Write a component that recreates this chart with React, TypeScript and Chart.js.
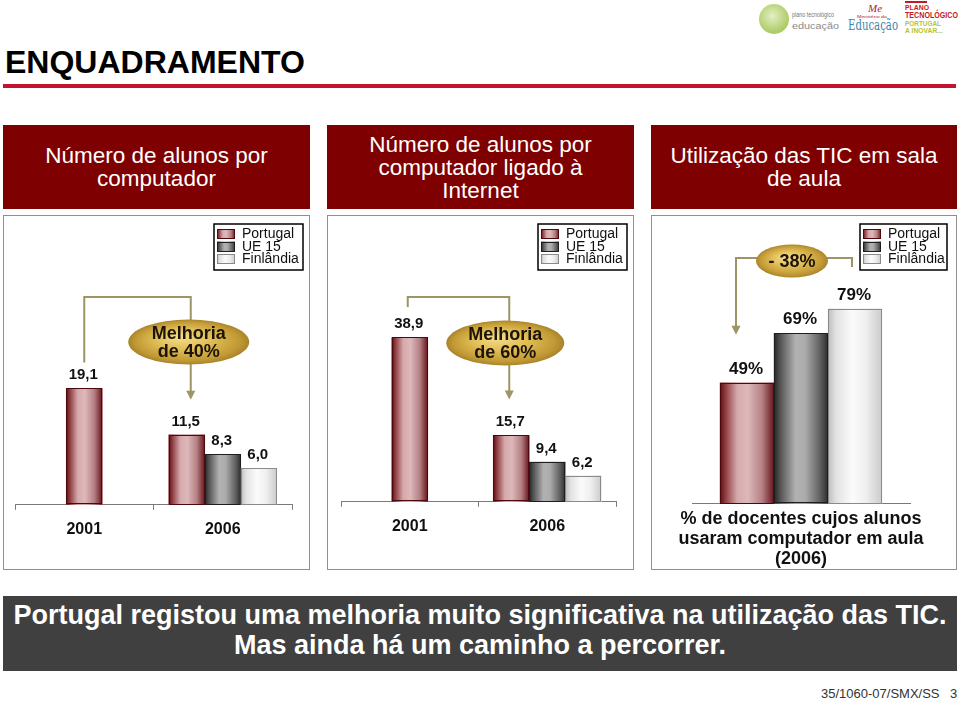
import React, { useEffect, useRef } from "react";
import { Chart, registerables } from "chart.js";

Chart.register(...registerables);

// ---------------- data ----------------
const seriesNames = ["Portugal", "UE 15", "Finlândia"];
const years = ["2001", "2006"];
const pcPortugal = [19.1, 11.5];
const pcUE15 = [null, 8.3];
const pcFinland = [null, 6.0];
const netPortugal = [38.9, 15.7];
const netUE15 = [null, 9.4];
const netFinland = [null, 6.2];
const ticCategory = [["% de docentes cujos alunos", "usaram computador em aula", "(2006)"]];
const ticPortugal = [49];
const ticUE15 = [69];
const ticFinland = [79];
const panelTitles = [
  ["Número de alunos por", "computador"],
  ["Número de alunos por", "computador ligado à", "Internet"],
  ["Utilização das TIC em sala", "de aula"],
];
const calloutTexts = [["Melhoria", "de 40%"], ["Melhoria", "de 60%"], ["- 38%"]];
const conclusion = [
  "Portugal registou uma melhoria muito significativa na utilização das TIC.",
  "Mas ainda há um caminho a percorrer.",
];
const pageTitle = "ENQUADRAMENTO";
const footerRef = "35/1060-07/SMX/SS";
const footerPage = "3";

// ---------------- styles ----------------
const FONT = "Arial, 'Liberation Sans', Helvetica, sans-serif";

type SeriesStyle = { solid: string; border: string; stops: [number, string][] };
const seriesStyles: SeriesStyle[] = [
  {
    solid: "#b37378",
    border: "#4c080c",
    stops: [
      [0, "#5c0c11"],
      [0.1, "#8e3c41"],
      [0.32, "#d6aaad"],
      [0.52, "#ddb8ba"],
      [0.78, "#b47f83"],
      [1, "#66141a"],
    ],
  },
  {
    solid: "#8a8a8a",
    border: "#1e1e1e",
    stops: [
      [0, "#262626"],
      [0.12, "#555555"],
      [0.4, "#b2b2b2"],
      [0.58, "#ababab"],
      [0.85, "#616161"],
      [1, "#2e2e2e"],
    ],
  },
  {
    solid: "#eeeeee",
    border: "#8a8a8a",
    stops: [
      [0, "#bdbdbd"],
      [0.15, "#e2e2e2"],
      [0.45, "#fbfbfb"],
      [0.7, "#efefef"],
      [1, "#cbcbcb"],
    ],
  },
];

function fillBar(ctx: CanvasRenderingContext2D, l: number, t: number, r: number, b: number, st: SeriesStyle) {
  const g = ctx.createLinearGradient(l, 0, r, 0);
  st.stops.forEach(([o, c]) => g.addColorStop(o, c));
  ctx.fillStyle = g;
  ctx.fillRect(l, t, r - l, b - t);
  ctx.strokeStyle = st.border;
  ctx.lineWidth = 1;
  ctx.strokeRect(Math.round(l) + 0.5, Math.round(t) + 0.5, Math.round(r - l) - 1, Math.round(b - t) - 1);
}

const barShadePlugin = {
  id: "barShade",
  afterDatasetsDraw(chart: any) {
    const ctx = chart.ctx;
    ctx.save();
    chart.data.datasets.forEach((ds: any, di: number) => {
      const meta = chart.getDatasetMeta(di);
      meta.data.forEach((el: any, i: number) => {
        if (ds.data[i] == null) return;
        const { x, y, base, width } = el.getProps(["x", "y", "base", "width"], true);
        fillBar(ctx, x - width / 2, y, x + width / 2, base, seriesStyles[di]);
      });
    });
    ctx.restore();
  },
};

function valueLabelPlugin(fmt: (v: number) => string, size: number) {
  return {
    id: "valueLabels",
    afterDatasetsDraw(chart: any) {
      const ctx = chart.ctx;
      ctx.save();
      ctx.font = `bold ${size}px ${FONT}`;
      ctx.fillStyle = "#111";
      ctx.textAlign = "center";
      ctx.textBaseline = "alphabetic";
      chart.data.datasets.forEach((ds: any, di: number) => {
        const meta = chart.getDatasetMeta(di);
        meta.data.forEach((el: any, i: number) => {
          const v = ds.data[i];
          if (v == null) return;
          ctx.fillText(fmt(v), el.x - 1, el.y - 9);
        });
      });
      ctx.restore();
    },
  };
}

function legendBoxPlugin(boxW: number, rightGap: number) {
  return {
    id: "legendBox",
    afterDraw(chart: any) {
      const ctx = chart.ctx;
      const x = chart.width - rightGap - boxW;
      const y = 8;
      const h = 46;
      ctx.save();
      ctx.fillStyle = "#fff";
      ctx.fillRect(x, y, boxW, h);
      ctx.strokeStyle = "#000";
      ctx.lineWidth = 1.5;
      ctx.strokeRect(x, y, boxW, h);
      ctx.font = `14px ${FONT}`;
      ctx.textBaseline = "middle";
      ctx.textAlign = "left";
      chart.data.datasets.forEach((ds: any, i: number) => {
        const sy = y + 5 + i * 12.5;
        fillBar(ctx, x + 3, sy, x + 21, sy + 10, seriesStyles[i]);
        ctx.fillStyle = "#111";
        ctx.fillText(ds.label, x + 28, sy + 5.5);
      });
      ctx.restore();
    },
  };
}

type Leg = { ds: number; idx: number; dx: number; end: (el: any, top: number) => number; arrow: boolean };
function bracketPlugin(cfg: {
  top: number;
  a: Leg;
  b: Leg;
  ell: (xa: number, xb: number, top: number) => { cx: number; cy: number; w: number; h: number };
  text: string[];
}) {
  return {
    id: "bracket",
    afterDraw(chart: any) {
      const ctx = chart.ctx;
      const topY = chart.chartArea.top + cfg.top;
      const elA = chart.getDatasetMeta(cfg.a.ds).data[cfg.a.idx];
      const elB = chart.getDatasetMeta(cfg.b.ds).data[cfg.b.idx];
      const xa = elA.x + cfg.a.dx;
      const xb = elB.x + cfg.b.dx;
      const ya = cfg.a.end(elA, topY);
      const yb = cfg.b.end(elB, topY);
      ctx.save();
      ctx.strokeStyle = "#9d9566";
      ctx.fillStyle = "#9d9566";
      ctx.lineWidth = 2;
      const legs: [number, number, boolean][] = [
        [xa, ya, cfg.a.arrow],
        [xb, yb, cfg.b.arrow],
      ];
      ctx.beginPath();
      ctx.moveTo(xa, cfg.a.arrow ? ya - 8 : ya);
      ctx.lineTo(xa, topY);
      ctx.lineTo(xb, topY);
      ctx.lineTo(xb, cfg.b.arrow ? yb - 8 : yb);
      ctx.stroke();
      legs.forEach(([x, y, arrow]) => {
        if (!arrow) return;
        ctx.beginPath();
        ctx.moveTo(x, y);
        ctx.lineTo(x - 4.5, y - 9);
        ctx.lineTo(x + 4.5, y - 9);
        ctx.closePath();
        ctx.fill();
      });
      const { cx, cy, w, h } = cfg.ell(xa, xb, topY);
      ctx.save();
      ctx.translate(cx, cy);
      ctx.scale(1, h / w);
      const g = ctx.createRadialGradient(-w * 0.08, -w * 0.12, 2, 0, 0, w / 2);
      g.addColorStop(0, "#f4dc8a");
      g.addColorStop(0.45, "#e0bd55");
      g.addColorStop(0.85, "#c29a35");
      g.addColorStop(1, "#a8832a");
      ctx.beginPath();
      ctx.arc(0, 0, w / 2, 0, Math.PI * 2);
      ctx.fillStyle = g;
      ctx.fill();
      ctx.restore();
      ctx.fillStyle = "#1c1408";
      ctx.font = `bold 18px ${FONT}`;
      ctx.textAlign = "center";
      ctx.textBaseline = "middle";
      const n = cfg.text.length;
      cfg.text.forEach((t, i) => {
        ctx.fillText(t, cx, cy + (i - (n - 1) / 2) * 18 + 1);
      });
      ctx.restore();
    },
  };
}

const commaFmt = (v: number) => v.toFixed(1).replace(".", ",");
const pctFmt = (v: number) => `${v}%`;

function makeDatasets(values: (number | null)[][], thickness: number) {
  return values.map((d, i) => ({
    label: seriesNames[i],
    data: d,
    backgroundColor: seriesStyles[i].solid,
    borderWidth: 0,
    skipNull: true,
    barThickness: thickness,
  }));
}

function xScale(fontSize: number, lineHeight: number, tickLen: number, pad: number) {
  return {
    grid: {
      display: true,
      drawOnChartArea: false,
      drawTicks: tickLen > 0,
      tickLength: tickLen,
      color: "#7a7a7a",
    },
    border: { display: true, color: "#7a7a7a", width: 1 },
    ticks: {
      color: "#111",
      font: { family: FONT, size: fontSize, weight: "bold", lineHeight },
      padding: pad,
      maxRotation: 0,
      minRotation: 0,
      autoSkip: false,
    },
  };
}

function buildConfigs(): any[] {
  const c1 = {
    type: "bar",
    data: { labels: years, datasets: makeDatasets([pcPortugal, pcUE15, pcFinland], 36) },
    options: {
      responsive: false,
      animation: false,
      layout: { padding: { left: 11, right: 17, top: 45, bottom: 20 } },
      plugins: { legend: { display: false }, tooltip: { enabled: false } },
      scales: { x: xScale(16, 1.2, 5, 10), y: { display: false, min: 0, max: 40 } },
    },
    plugins: [
      barShadePlugin,
      valueLabelPlugin(commaFmt, 15),
      legendBoxPlugin(89, 6),
      bracketPlugin({
        top: 36,
        a: { ds: 0, idx: 0, dx: 0, end: (el) => el.y - 26, arrow: false },
        b: { ds: 0, idx: 1, dx: 4, end: (el) => el.y - 35, arrow: true },
        ell: (xa, xb, top) => ({ cx: xb - 2, cy: top + 45, w: 121, h: 45 }),
        text: calloutTexts[0],
      }),
    ],
  };
  const c2 = {
    type: "bar",
    data: { labels: years, datasets: makeDatasets([netPortugal, netUE15, netFinland], 36) },
    options: {
      responsive: false,
      animation: false,
      layout: { padding: { left: 13, right: 17, top: 45, bottom: 23 } },
      plugins: { legend: { display: false }, tooltip: { enabled: false } },
      scales: { x: xScale(16, 1.2, 5, 10), y: { display: false, min: 0, max: 57 } },
    },
    plugins: [
      barShadePlugin,
      valueLabelPlugin(commaFmt, 15),
      legendBoxPlugin(89, 6),
      bracketPlugin({
        top: 36,
        a: { ds: 0, idx: 0, dx: -2, end: (el, top) => top + 10, arrow: false },
        b: { ds: 0, idx: 1, dx: -2, end: (el) => el.y - 36, arrow: true },
        ell: (xa, xb, top) => ({ cx: xb - 4, cy: top + 46, w: 118, h: 45 }),
        text: calloutTexts[1],
      }),
    ],
  };
  const c3 = {
    type: "bar",
    data: { labels: ticCategory, datasets: makeDatasets([ticPortugal, ticUE15, ticFinland], 54) },
    options: {
      responsive: false,
      animation: false,
      layout: { padding: { left: 40, right: 46, top: 41, bottom: 0 } },
      plugins: { legend: { display: false }, tooltip: { enabled: false } },
      scales: { x: xScale(18, 1.1, 0, 6), y: { display: false, min: 0, max: 100 } },
    },
    plugins: [
      barShadePlugin,
      valueLabelPlugin(pctFmt, 17),
      legendBoxPlugin(87, 9),
      bracketPlugin({
        top: 1,
        a: { ds: 0, idx: 0, dx: -11, end: (el) => el.y - 48, arrow: true },
        b: { ds: 2, idx: 0, dx: -3, end: (el, top) => top + 9, arrow: false },
        ell: (xa, xb, top) => ({ cx: (xa + xb) / 2 - 2, cy: top + 3, w: 72, h: 33 }),
        text: calloutTexts[2],
      }),
    ],
  };
  return [c1, c2, c3];
}

function ChartCanvas({ config, width, height }: { config: any; width: number; height: number }) {
  const ref = useRef<HTMLCanvasElement | null>(null);
  useEffect(() => {
    if (!ref.current) return;
    const chart = new Chart(ref.current, config);
    return () => chart.destroy();
  }, [config]);
  return <canvas ref={ref} width={width} height={height} style={{ display: "block", width, height }} />;
}

const panels = [
  { left: 3, width: 307, canvasH: 353 },
  { left: 327, width: 307, canvasH: 353 },
  { left: 651, width: 306, canvasH: 359 },
];

function Logos() {
  return (
    <svg width={215} height={40} style={{ position: "absolute", left: 745, top: 0 }}>
      <defs>
        <radialGradient id="gc" cx="0.45" cy="0.4" r="0.6">
          <stop offset="0" stopColor="#e4efc2" />
          <stop offset="1" stopColor="#a9c860" />
        </radialGradient>
      </defs>
      <circle cx={29} cy={19} r={15} fill="url(#gc)" />
      <text x={47} y={17} fontSize={6.5} fill="#777" fontFamily={FONT} textLength={42} lengthAdjust="spacingAndGlyphs">plano tecnológico</text>
      <text x={47} y={29} fontSize={9} fill="#8a8a8a" fontFamily={FONT} textLength={47} lengthAdjust="spacingAndGlyphs">educação</text>
      <text x={123} y={12} fontSize={11} fill="#b0242a" fontFamily="serif" fontStyle="italic">Me</text>
      <text x={112} y={18} fontSize={4} fill="#b0242a" fontFamily={FONT} textLength={30} lengthAdjust="spacingAndGlyphs">Ministério da</text>
      <text x={103} y={30} fontSize={15} fill="#3d86ad" fontFamily="'DejaVu Serif', serif" textLength={50} lengthAdjust="spacingAndGlyphs">Educação</text>
      <rect x={160} y={1} width={22} height={2} fill="#c21b25" />
      <text x={160} y={10} fontSize={8} fontWeight="bold" fill="#c21b25" fontFamily={FONT} textLength={24} lengthAdjust="spacingAndGlyphs">PLANO</text>
      <text x={160} y={18} fontSize={8.5} fontWeight="bold" fill="#c21b25" fontFamily={FONT} textLength={53} lengthAdjust="spacingAndGlyphs">TECNOLÓGICO</text>
      <text x={160} y={26} fontSize={7.5} fontWeight="bold" fill="#b7c42a" fontFamily={FONT} textLength={36} lengthAdjust="spacingAndGlyphs">PORTUGAL</text>
      <text x={160} y={33} fontSize={7.5} fontWeight="bold" fill="#b7c42a" fontFamily={FONT} textLength={38} lengthAdjust="spacingAndGlyphs">A INOVAR...</text>
    </svg>
  );
}

export default function App() {
  const configsRef = useRef<any[] | null>(null);
  if (!configsRef.current) configsRef.current = buildConfigs();
  const configs = configsRef.current;
  return (
    <div
      style={{
        position: "absolute",
        left: 0,
        top: 0,
        width: 960,
        height: 701,
        background: "#fff",
        overflow: "hidden",
        fontFamily: FONT,
        color: "#000",
      }}
    >
      <Logos />
      <div style={{ position: "absolute", left: 5, top: 44, fontSize: 32, fontWeight: "bold", lineHeight: "36px", whiteSpace: "nowrap" }}>
        {pageTitle}
      </div>
      <div style={{ position: "absolute", left: 3, top: 84, width: 953, height: 4, background: "#c4122f" }} />
      {panels.map((p, i) => (
        <div
          key={"h" + i}
          style={{
            position: "absolute",
            left: p.left,
            top: 125,
            width: p.width,
            height: 84,
            background: "#7e0000",
            color: "#fff",
            display: "flex",
            flexDirection: "column",
            justifyContent: "center",
            alignItems: "center",
            fontSize: 22.5,
            lineHeight: "23px",
            textAlign: "center",
          }}
        >
          {panelTitles[i].map((t, j) => (
            <div key={j} style={{ whiteSpace: "nowrap" }}>{t}</div>
          ))}
        </div>
      ))}
      {panels.map((p, i) => (
        <div
          key={"p" + i}
          style={{
            position: "absolute",
            left: p.left,
            top: 215,
            width: p.width,
            height: 355,
            boxSizing: "border-box",
            border: "1px solid #8f8f8f",
          }}
        >
          <ChartCanvas config={configs[i]} width={p.width - 2} height={p.canvasH} />
        </div>
      ))}
      <div
        style={{
          position: "absolute",
          left: 3,
          top: 596,
          width: 954,
          height: 75,
          background: "#404040",
          color: "#fff",
          fontWeight: "bold",
          fontSize: 27,
          lineHeight: "30px",
          textAlign: "center",
          paddingTop: 4,
          boxSizing: "border-box",
        }}
      >
        {conclusion.map((t, i) => (
          <div key={i} style={{ whiteSpace: "nowrap" }}>{t}</div>
        ))}
      </div>
      <div style={{ position: "absolute", left: 821, top: 686, fontSize: 13, color: "#333", whiteSpace: "nowrap" }}>
        {footerRef}
      </div>
      <div style={{ position: "absolute", left: 950, top: 686, fontSize: 13, color: "#333" }}>{footerPage}</div>
    </div>
  );
}
